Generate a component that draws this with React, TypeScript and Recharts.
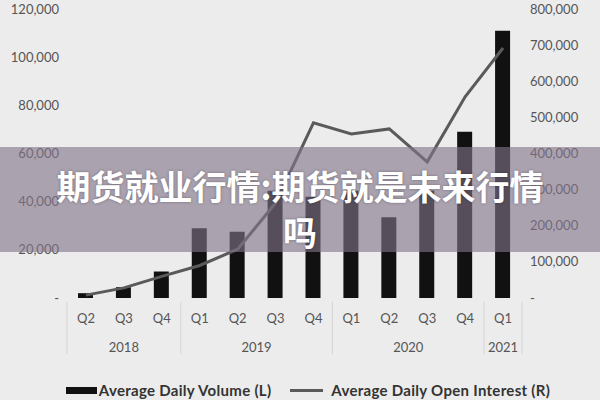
import React from 'react';
import { ComposedChart, Bar, Line, XAxis, YAxis, Legend } from 'recharts';

const quarters = ['Q2', 'Q3', 'Q4', 'Q1', 'Q2', 'Q3', 'Q4', 'Q1', 'Q2', 'Q3', 'Q4', 'Q1'];
const years = ['2018', '2018', '2018', '2019', '2019', '2019', '2019', '2020', '2020', '2020', '2020', '2021'];
const volume = [2000, 4500, 11000, 29000, 27500, 44500, 42000, 44500, 33500, 44500, 69000, 111000];
const openInterest = [8000, 28000, 60000, 90000, 135000, 263000, 485000, 454000, 468000, 377000, 557000, 692000];
const leftTicks = [0, 20000, 40000, 60000, 80000, 100000, 120000];
const rightTicks = [0, 100000, 200000, 300000, 400000, 500000, 600000, 700000, 800000];

const data = quarters.map((q, i) => ({
  key: `${years[i]} ${q}`,
  volume: volume[i],
  oi: openInterest[i],
}));

const fmt = (v: number) => (v === 0 ? '-' : v.toLocaleString('en-US'));

const tickFont = { fontFamily: 'Lato, sans-serif', fontSize: 13, fill: '#555' };

const QuarterTick = (props: any) => {
  const { x, y, payload, index } = props;
  const i = index;
  const half = payload && payload.offset ? payload.offset : 19;
  const year = years[i];
  const first = i === 0 || years[i - 1] !== year;
  const last = i === years.length - 1;
  const group = years.map((_, j) => j).filter((j) => years[j] === year);
  const mid = (group[0] + group[group.length - 1]) / 2;
  const showYear = i === Math.floor(mid);
  const yearX = x + (mid - Math.floor(mid)) * 2 * half;
  return (
    <g>
      <text x={x} y={y + 20} textAnchor="middle" dominantBaseline="central" {...tickFont}>
        {quarters[i]}
      </text>
      {first && <line x1={x - half} x2={x - half} y1={y + 4} y2={y + 56} stroke="#d4d4d4" />}
      {last && <line x1={x + half} x2={x + half} y1={y + 4} y2={y + 56} stroke="#d4d4d4" />}
      {showYear && (
        <text x={yearX} y={y + 49} textAnchor="middle" dominantBaseline="central" {...tickFont}>
          {year}
        </text>
      )}
    </g>
  );
};

const LegendContent = () => (
  <div
    style={{
      display: 'flex',
      justifyContent: 'center',
      alignItems: 'center',
      height: 20,
      paddingLeft: 16,
      fontFamily: 'Lato, sans-serif',
      fontWeight: 700,
      fontSize: 15,
      letterSpacing: 0.3,
      color: '#333',
    }}
  >
    <span style={{ display: 'inline-block', width: 31, height: 7, background: '#111', marginRight: 2 }} />
    <span>Average Daily Volume (L)</span>
    <span style={{ display: 'inline-block', width: 33, height: 3, background: '#5a5a5a', marginLeft: 19, marginRight: 8 }} />
    <span>Average Daily Open Interest (R)</span>
  </div>
);

const App: React.FC = () => {
  return (
    <div style={{ position: 'absolute', top: 0, left: 0, width: 600, height: 400, background: '#ececec', overflow: 'hidden' }}>
      <ComposedChart width={600} height={400} data={data} margin={{ top: 9, right: 0, left: 0, bottom: 0 }}>
        <XAxis
          dataKey="key"
          interval={0}
          axisLine={false}
          tickLine={false}
          tickSize={0}
          tickMargin={0}
          height={82}
          tick={<QuarterTick />}
        />
        <YAxis
          yAxisId="left"
          width={67}
          domain={[0, 120000]}
          ticks={leftTicks}
          tickFormatter={fmt}
          axisLine={false}
          tickLine={false}
          tick={tickFont}
        />
        <YAxis
          yAxisId="right"
          orientation="right"
          width={78}
          domain={[0, 800000]}
          ticks={rightTicks}
          tickFormatter={fmt}
          axisLine={false}
          tickLine={false}
          tick={tickFont}
        />
        <Legend verticalAlign="bottom" content={<LegendContent />} />
        <Bar yAxisId="left" dataKey="volume" fill="#111" barSize={15} isAnimationActive={false} />
        <Line
          yAxisId="right"
          dataKey="oi"
          type="linear"
          stroke="#5a5a5a"
          strokeWidth={3}
          dot={false}
          isAnimationActive={false}
        />
      </ComposedChart>
      <div
        style={{
          position: 'absolute',
          left: 0,
          top: 147,
          width: 600,
          height: 105,
          background: 'rgba(130, 117, 138, 0.62)',
        }}
      />
      <div
        style={{
          position: 'absolute',
          left: 0,
          top: 163,
          width: 600,
          textAlign: 'center',
          color: '#fff',
          fontFamily: '"Noto Sans CJK SC", sans-serif',
          fontWeight: 700,
          fontSize: 34,
          lineHeight: '46px',
          textShadow: '0 0 3px rgba(0,0,0,0.35)',
        }}
      >
        期货就业行情:期货就是未来行情
        <br />
        吗
      </div>
    </div>
  );
};

export default App;
